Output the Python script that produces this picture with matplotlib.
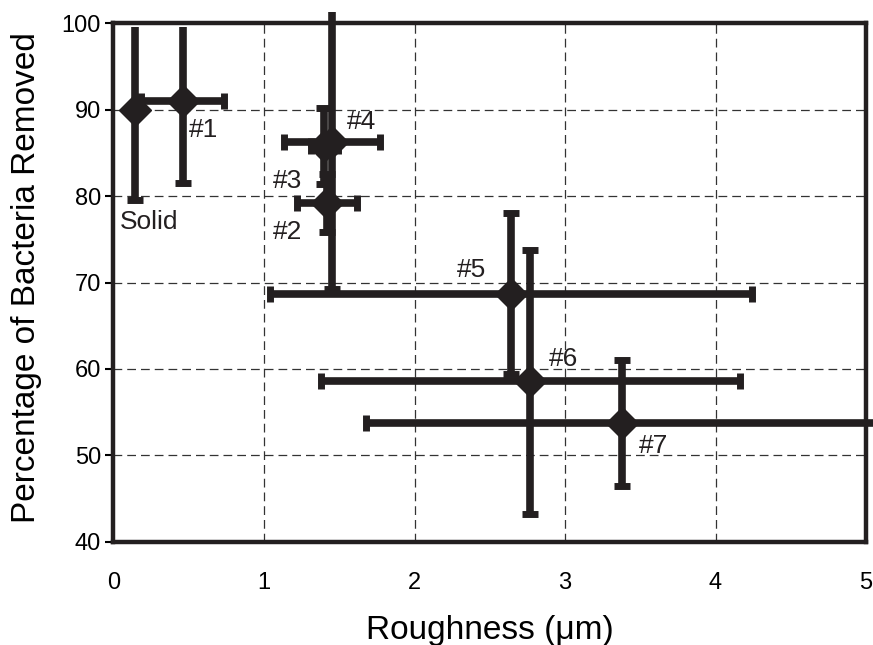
import numpy as np
import matplotlib.pyplot as plt

plt.rcParams['font.family'] = ['Liberation Sans', 'DejaVu Sans']

# samples: roughness (um) vs percentage of bacteria removed
names = ['Solid', '#1', '#2', '#3', '#4', '#5', '#6', '#7']
rough = [0.14, 0.46, 1.42, 1.40, 1.45, 2.64, 2.77, 3.38]
removed = [90.0, 91.0, 79.2, 85.8, 86.3, 68.7, 58.6, 53.7]
rough_err = [0.0, 0.275, 0.20, 0.09, 0.32, 1.60, 1.39, 1.70]
removed_lo = [10.5, 9.5, 3.3, 4.4, 17.0, 9.3, 15.4, 7.3]
removed_hi = [9.6, 8.6, 3.3, 4.4, 15.0, 9.3, 15.2, 7.3]

# where each name is written
label_x = [0.04, 0.50, 1.06, 1.06, 1.55, 2.28, 2.89, 3.49]
label_y = [77.0, 87.6, 75.9, 81.8, 88.6, 71.5, 61.1, 51.1]

# ends drawn without a cap (top of Solid, #1, #4)
no_top_cap = ['Solid', '#1', '#4']

ink = '#231f20'

fig = plt.figure(figsize=(8.73, 6.45), dpi=100)
ax = fig.add_axes([0.13, 0.16, 0.862, 0.804])

for i in range(len(names)):
    xe = rough_err[i] if rough_err[i] > 0 else None
    eb = ax.errorbar(rough[i], removed[i], xerr=xe,
                     yerr=[[removed_lo[i]], [removed_hi[i]]],
                     fmt='D', color=ink, ms=16, ecolor=ink, elinewidth=5.5,
                     capsize=6, capthick=5, clip_on=False, zorder=3)
    if names[i] in no_top_cap:
        eb[1][-1].set_visible(False)

for i in range(len(names)):
    ax.text(label_x[i], label_y[i], names[i], fontsize=19, color=ink,
            ha='left', va='center')

ax.set_xlim(0, 5)
ax.set_ylim(40, 100)
ax.set_xticks(np.arange(0, 6, 1))
ax.set_yticks(np.arange(40, 101, 10))
ax.grid(True, linestyle=(0, (7, 4)), color='#333333', linewidth=0.9)
ax.set_axisbelow(True)
for s in ax.spines.values():
    s.set_linewidth(3.2)
    s.set_color(ink)
    s.set_zorder(4)

ax.tick_params(axis='x', length=0, pad=22, labelsize=17)
ax.tick_params(axis='y', length=6, width=1.5, pad=3, labelsize=17)
ax.set_xlabel('Roughness (μm)', fontsize=24)
ax.set_ylabel('Percentage of Bacteria Removed', fontsize=24)
ax.xaxis.set_label_coords(0.5, -0.142)
ax.yaxis.set_label_coords(-0.095, 0.51)

fig.savefig('out.png', dpi=100)
